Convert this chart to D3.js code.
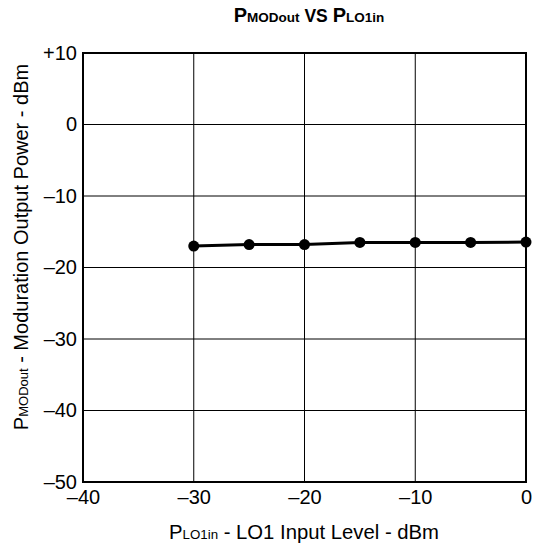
<!DOCTYPE html>
<html><head><meta charset="utf-8">
<script src="https://cdn.jsdelivr.net/npm/d3@7"></script>
<style>body{margin:0;background:#fff}svg{display:block}text{font-family:"Liberation Sans",Arial,sans-serif;fill:#000}</style>
</head><body>
<svg id="c" width="538" height="550"></svg>
<script>
const xLevels = [-30, -25, -20, -15, -10, -5, 0];
const yPower = [-17.0, -16.8, -16.8, -16.5, -16.5, -16.5, -16.45];
const xTicks = [-40, -30, -20, -10, 0];
const yTicks = [10, 0, -10, -20, -30, -40, -50];
const xTickLabels = ["\u201340", "\u201330", "\u201320", "\u201310", "0"];
const yTickLabels = ["+10", "0", "\u201310", "\u201320", "\u201330", "\u201340", "\u201350"];

const svg = d3.select("#c");
const L = 83, R = 526, T = 53, B = 482;
const x = d3.scaleLinear().domain([-40, 0]).range([L, R]);
const y = d3.scaleLinear().domain([-50, 10]).range([B, T]);
const FF = '"Liberation Sans",Arial,sans-serif';

// grid
svg.append("g").selectAll("line").data(xTicks.slice(1, -1)).join("line")
  .attr("x1", d => x(d)).attr("x2", d => x(d)).attr("y1", T).attr("y2", B)
  .attr("stroke", "#000").attr("stroke-width", 1);
svg.append("g").selectAll("line").data(yTicks.slice(1, -1)).join("line")
  .attr("y1", d => y(d)).attr("y2", d => y(d)).attr("x1", L).attr("x2", R)
  .attr("stroke", "#000").attr("stroke-width", 1);
svg.append("rect").attr("x", L).attr("y", T).attr("width", R - L).attr("height", B - T)
  .attr("fill", "none").attr("stroke", "#000").attr("stroke-width", 2);

// axes labels via d3 axes (no lines)
const xa = svg.append("g").attr("transform", `translate(0,${B})`)
  .call(d3.axisBottom(x).tickValues(xTicks).tickSize(0).tickPadding(8)
    .tickFormat((d, i) => xTickLabels[i]));
xa.select(".domain").remove();
xa.selectAll("text").attr("font-size", 20).attr("font-family", FF).attr("fill", "#000");

const ya = svg.append("g").attr("transform", `translate(${L},0)`)
  .call(d3.axisLeft(y).tickValues(yTicks).tickSize(0).tickPadding(6)
    .tickFormat((d, i) => yTickLabels[i]));
ya.select(".domain").remove();
ya.selectAll("text").attr("font-size", 20).attr("font-family", FF).attr("fill", "#000");

// data
const pts = xLevels.map((v, i) => [v, yPower[i]]);
svg.append("path").datum(pts)
  .attr("d", d3.line().x(d => x(d[0])).y(d => y(d[1])))
  .attr("fill", "none").attr("stroke", "#000").attr("stroke-width", 3);
svg.append("g").selectAll("circle").data(pts).join("circle")
  .attr("cx", d => x(d[0])).attr("cy", d => y(d[1])).attr("r", 5.5).attr("fill", "#000");

// title
const t = svg.append("text").attr("x", 309).attr("y", 22).attr("text-anchor", "middle")
  .attr("font-weight", "bold");
t.append("tspan").attr("font-size", 20).text("P");
t.append("tspan").attr("font-size", 13.5).text("MODout");
t.append("tspan").attr("font-size", 17.5).text(" VS ");
t.append("tspan").attr("font-size", 20).text("P");
t.append("tspan").attr("font-size", 13.5).text("LO1in");

// x label
const xl = svg.append("text").attr("x", 304).attr("y", 539).attr("text-anchor", "middle");
xl.append("tspan").attr("font-size", 20.3).text("P");
xl.append("tspan").attr("font-size", 13.3).text("LO1in");
xl.append("tspan").attr("font-size", 20.3).text(" - LO1 Input Level - dBm");

// y label
const yl = svg.append("text").attr("transform", "translate(28,247) rotate(-90)").attr("text-anchor", "middle");
yl.append("tspan").attr("font-size", 20).text("P");
yl.append("tspan").attr("font-size", 13).text("MODout");
yl.append("tspan").attr("font-size", 20).text(" - Moduration Output Power - dBm");
</script>
</body></html>
